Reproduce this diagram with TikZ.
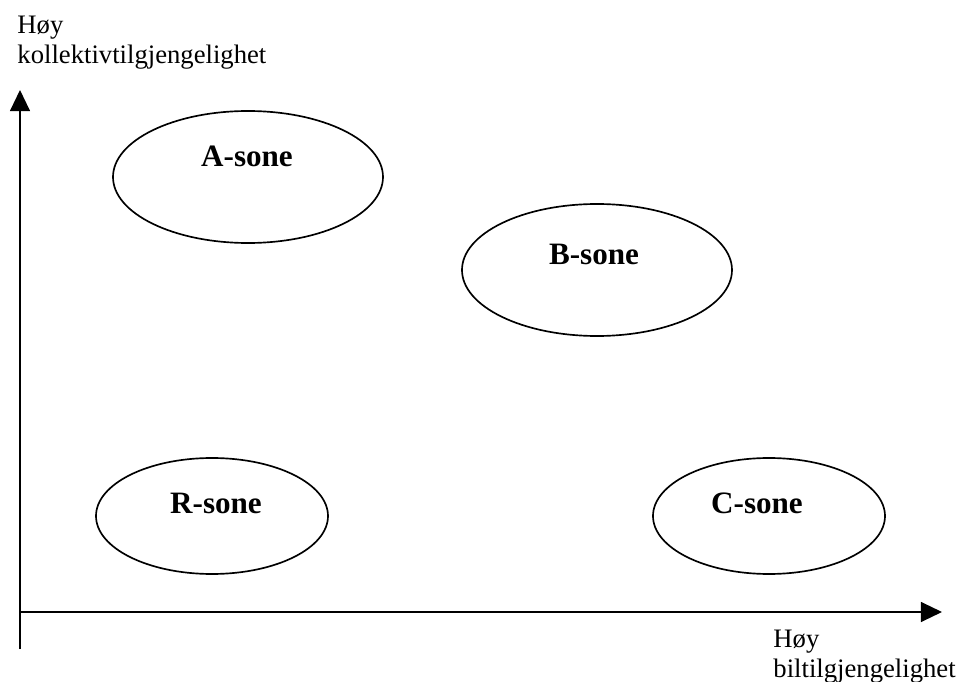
\documentclass[tikz,border=0pt]{standalone}
\usepackage{fontspec}
\setmainfont{Liberation Serif}
\usetikzlibrary{shapes.geometric,arrows.meta}
\tikzset{
  axis/.style={line width=0.6pt, -{Triangle[length=9.5pt,width=9pt]}},
  bigzone/.style={draw, ellipse, line width=0.75pt, minimum width=121.5pt, minimum height=59.4pt},
  smallzone/.style={draw, ellipse, line width=0.75pt, minimum width=104.4pt, minimum height=52.2pt},
  zonename/.style={font=\fontsize{14}{16}\selectfont\bfseries, anchor=base, inner sep=0pt},
  axislabel/.style={font=\fontsize{12}{13.5}\selectfont, align=left, anchor=base west, inner sep=0pt},
}
\begin{document}
\begin{tikzpicture}[x=0.45pt, y=-0.45pt]
	\useasboundingbox (0,0) rectangle (958,682);
	% axes
	\coordinate (ybot) at (20,649);
	\coordinate (ytop) at (20,90);
	\coordinate (origin) at (20,612);
	\coordinate (xend) at (942,612);
	\draw[axis] (ybot) -- (ytop);
	\draw[axis] (origin) -- (xend);
	\node[axislabel] (ylabel) at (17,64) {Høy\\kollektivtilgjengelighet};
	\node[axislabel] (xlabel) at (773,677) {Høy\\biltilgjengelighet};
	% zones
	\node[bigzone] (azone) at (248,177) {};
	\node[bigzone] (bzone) at (597,270) {};
	\node[smallzone] (rzone) at (212,516) {};
	\node[smallzone] (czone) at (769,516) {};
	\node[zonename] (aname) at (247,167) {A-sone};
	\node[zonename] (bname) at (594,265) {B-sone};
	\node[zonename] (rname) at (216,514) {R-sone};
	\node[zonename] (cname) at (757,514) {C-sone};
\end{tikzpicture}
\end{document}
